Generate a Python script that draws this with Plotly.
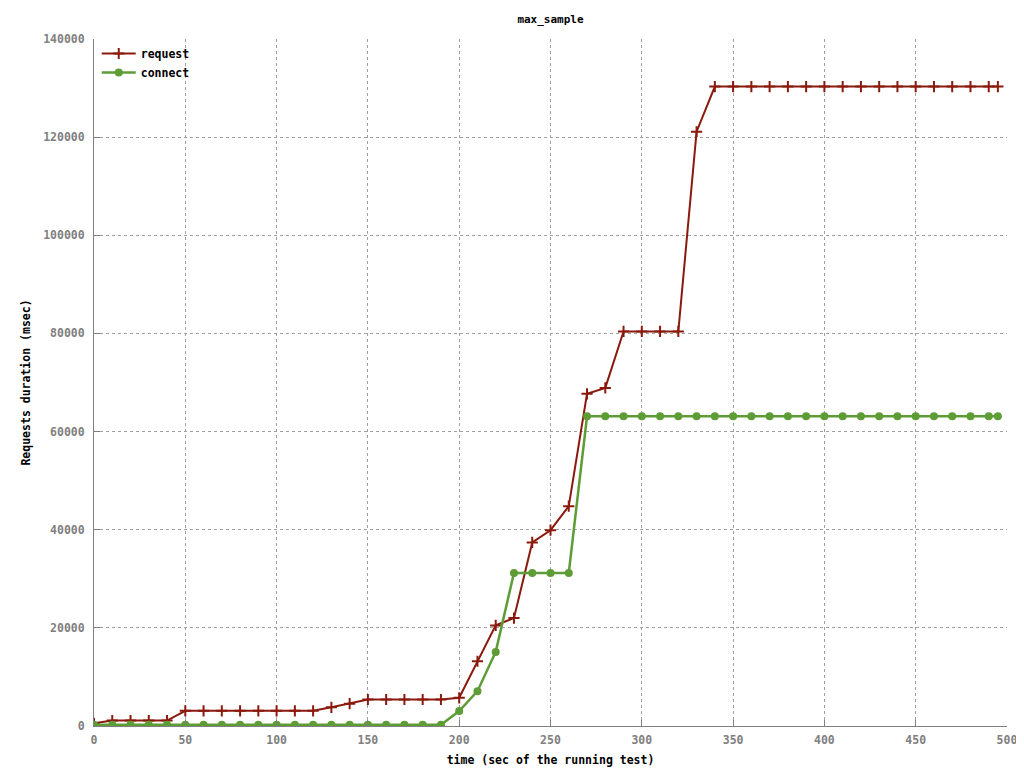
import plotly.graph_objects as go

# sample times (sec)
times = list(range(0, 500, 10)) + [495]

# max_sample values (msec)
request = [550, 1100, 1100, 1100, 1100,
           3100, 3100, 3100, 3100, 3100, 3100, 3100, 3100,
           3800, 4550,
           5400, 5400, 5400, 5400, 5400,
           5750, 13200, 20500, 22000, 37400, 39900, 44800,
           67700, 68900,
           80400, 80400, 80400, 80400,
           121100] + [130300] * 17

connect = [250] * 20 + [3050, 7100, 15100,
                        31200, 31200, 31200, 31200] + [63100] * 24

red = "#8b1a0e"
green = "#5e9c36"
gray = "#808080"
font_family = "DejaVu Sans Mono"

fig = go.Figure()

fig.add_trace(go.Scatter(
    x=times, y=request, name="request", mode="lines+markers",
    line=dict(color=red, width=2),
    marker=dict(symbol="cross-thin", size=8, line=dict(color=red, width=2)),
))
fig.add_trace(go.Scatter(
    x=times, y=connect, name="connect", mode="lines+markers",
    line=dict(color=green, width=2.5),
    marker=dict(symbol="circle", size=8, color=green),
))

# page body adds ~8px offset, so the figure is a bit smaller than the window
fig.update_layout(
    width=1016, height=760,
    paper_bgcolor="white", plot_bgcolor="white",
    margin=dict(l=86, r=17, t=31, b=42, autoexpand=False),
    font=dict(family=font_family, size=11.5, color="black", weight="bold"),
    title=dict(text="max_sample", x=0.5, xref="paper", xanchor="center",
               y=0.991, yanchor="top",
               font=dict(size=11, family=font_family, color="black")),
    showlegend=True,
    legend=dict(x=0.003, y=1.0, xanchor="left", yanchor="top",
                bgcolor="rgba(0,0,0,0)", font=dict(size=11.5, color="black"),
                tracegroupgap=0, itemwidth=34),
)

fig.update_xaxes(
    range=[0, 500], dtick=50, tick0=0, automargin=False,
    showgrid=True, gridcolor="#a0a0a0", griddash="dot", gridwidth=1,
    showline=True, linecolor=gray, linewidth=1, mirror=False,
    ticks="inside", ticklen=6, tickcolor=gray,
    tickfont=dict(color=gray, size=11.5), ticklabelstandoff=3,
    zeroline=False,
    title=dict(text="time (sec of the running test)", standoff=10,
               font=dict(size=11.5, color="black")),
)
fig.update_yaxes(
    range=[0, 140000], dtick=20000, tick0=0, tickformat="d", automargin=False,
    showgrid=True, gridcolor="#a0a0a0", griddash="dot", gridwidth=1,
    showline=True, linecolor=gray, linewidth=1, mirror=False,
    ticks="inside", ticklen=6, tickcolor=gray,
    tickfont=dict(color=gray, size=11.5), ticklabelstandoff=6,
    zeroline=False,
    title=dict(text="Requests duration (msec)", standoff=10,
               font=dict(size=11.5, color="black")),
)

fig.write_html("out.html")
